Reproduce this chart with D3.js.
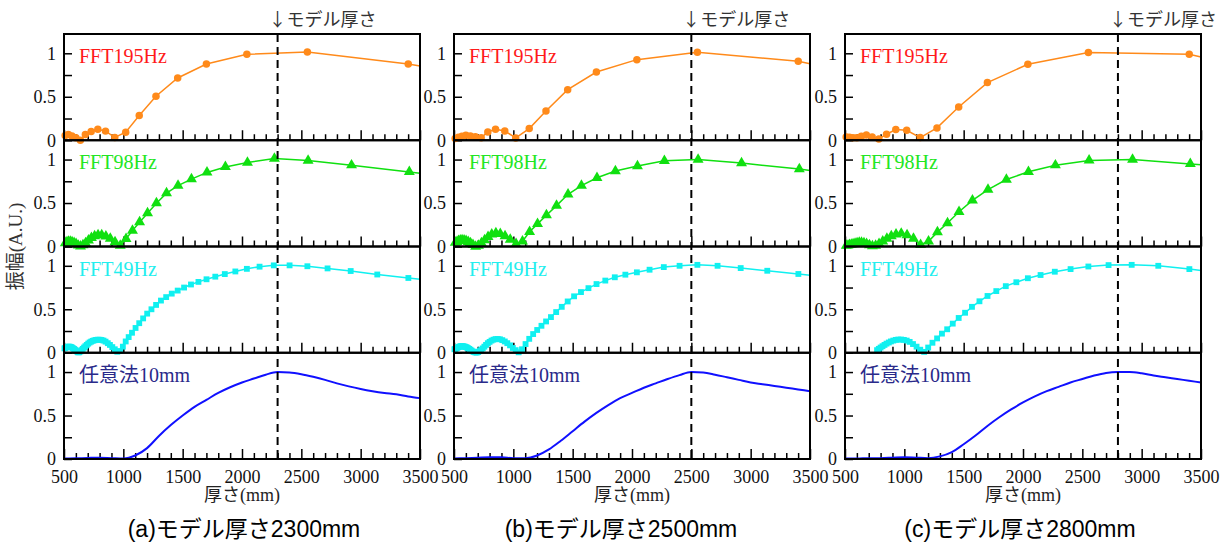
<!DOCTYPE html>
<html>
<head>
<meta charset="utf-8">
<script src="https://cdn.jsdelivr.net/npm/d3@7"></script>
<style>
  body { margin: 0; background: #fff; }
  svg { display: block; }
</style>
</head>
<body>
<script>
// thickness (mm) of each FFT sample, shared by the three panels
const t195 = [510, 537, 567, 600, 638, 680, 729, 785, 850, 928, 1020, 1134, 1275, 1458, 1700, 2041, 2551, 3401];
const t98 = [511, 525, 538, 553, 568, 585, 602, 620, 639, 660,
             682, 706, 731, 758, 787, 818, 853, 890, 930, 974,
             1023, 1077, 1137, 1204, 1279, 1364, 1461, 1574, 1705, 1860,
             2046, 2273, 2557, 2923, 3410];
const t49 = [504, 510, 517, 524, 530, 537, 545, 552, 559, 567,
             575, 583, 592, 600, 609, 618, 628, 638, 648, 658,
             669, 680, 692, 704, 716, 729, 742, 756, 770, 785,
             800, 816, 833, 850, 869, 887, 907, 928, 949, 972,
             996, 1020, 1045, 1073, 1103, 1134, 1167, 1201, 1237, 1276,
             1317, 1361, 1408, 1458, 1512, 1570, 1633, 1701, 1775, 1855,
             1944, 2041, 2148, 2268, 2401, 2551, 2721, 2916, 3140, 3402];
const tArb = [500, 600, 700, 800, 900, 1000, 1100, 1200, 1300, 1400,
              1500, 1600, 1700, 1800, 1900, 2000, 2100, 2200, 2300, 2400,
              2500, 2600, 2700, 2800, 2900, 3000, 3100, 3200, 3300, 3400, 3500];

// (a) model 2300mm
const a195 = [0.055, 0.065, 0.05, 0.03, 0.0, 0.065, 0.1, 0.126, 0.105, 0.032, 0.093, 0.285, 0.506, 0.716, 0.877, 0.989, 1.015, 0.877];
const a98 = [0.04, 0.05, 0.057, 0.057, 0.052, 0.042, 0.03, 0.012, 0.003, 0.015,
             0.04, 0.07, 0.1, 0.12, 0.132, 0.132, 0.118, 0.09, 0.05, 0.01,
             0.088, 0.184, 0.28, 0.383, 0.498, 0.613, 0.7, 0.775, 0.852, 0.915,
             0.966, 1.011, 0.989, 0.935, 0.858];
const a49 = [0.05, 0.055, 0.06, 0.065, 0.068, 0.07, 0.07, 0.068, 0.065, 0.06,
             0.052, 0.045, 0.035, 0.025, 0.015, 0.005, 0.005, 0.015, 0.03, 0.045,
             0.06, 0.075, 0.09, 0.105, 0.118, 0.128, 0.137, 0.143, 0.148, 0.15,
             0.15, 0.147, 0.14, 0.128, 0.11, 0.09, 0.065, 0.04, 0.012, 0.02,
             0.07, 0.13, 0.18, 0.23, 0.285, 0.34, 0.395, 0.45, 0.5, 0.55,
             0.6, 0.64, 0.68, 0.715, 0.75, 0.785, 0.815, 0.845, 0.875, 0.905,
             0.935, 0.965, 0.99, 1.005, 1.005, 0.995, 0.97, 0.94, 0.9, 0.86];
const aArb = [0.005, 0.008, 0.012, 0.015, 0.01, 0.005, 0.04, 0.125, 0.265, 0.39,
              0.5, 0.6, 0.68, 0.76, 0.825, 0.88, 0.925, 0.97, 1.0, 0.995,
              0.975, 0.945, 0.91, 0.87, 0.835, 0.805, 0.78, 0.76, 0.745, 0.72, 0.7];

// (b) model 2500mm
const b195 = [0.02, 0.035, 0.045, 0.057, 0.05, 0.04, 0.03, 0.096, 0.126, 0.107, 0.027, 0.134, 0.337, 0.582, 0.785, 0.927, 1.011, 0.908];
const b98 = [0.045, 0.055, 0.065, 0.072, 0.075, 0.072, 0.065, 0.055, 0.04, 0.02,
             0.0, 0.01, 0.04, 0.075, 0.11, 0.14, 0.155, 0.145, 0.12, 0.08,
             0.03, 0.06, 0.17, 0.26, 0.36, 0.47, 0.6, 0.7, 0.79, 0.868,
             0.925, 0.985, 1.0, 0.96, 0.89];
const b49 = [0.04, 0.045, 0.05, 0.055, 0.06, 0.065, 0.07, 0.072, 0.075, 0.075,
             0.075, 0.072, 0.07, 0.065, 0.06, 0.052, 0.045, 0.035, 0.025, 0.015,
             0.008, 0.003, 0.002, 0.008, 0.02, 0.035, 0.05, 0.07, 0.09, 0.11,
             0.125, 0.14, 0.15, 0.157, 0.158, 0.155, 0.145, 0.13, 0.11, 0.085,
             0.055, 0.03, 0.005, 0.04, 0.1, 0.16, 0.215, 0.262, 0.31, 0.36,
             0.41, 0.468, 0.528, 0.59, 0.649, 0.698, 0.743, 0.79, 0.83, 0.868,
             0.898, 0.925, 0.955, 0.985, 1.0, 1.011, 1.0, 0.974, 0.943, 0.906];
const bArb = [0.005, 0.01, 0.015, 0.02, 0.02, 0.01, 0.01, 0.04, 0.11, 0.21,
              0.32, 0.43, 0.53, 0.62, 0.7, 0.76, 0.82, 0.87, 0.92, 0.965,
              1.0, 0.995, 0.97, 0.94, 0.91, 0.88, 0.86, 0.84, 0.82, 0.8, 0.78];

// (c) model 2800mm
const c195 = [0.038, 0.035, 0.03, 0.03, 0.046, 0.061, 0.038, 0.015, 0.069, 0.123, 0.115, 0.031, 0.142, 0.383, 0.663, 0.874, 1.008, 0.989];
const c98 = [0.01, 0.012, 0.018, 0.022, 0.028, 0.035, 0.04, 0.045, 0.045, 0.04,
             0.03, 0.015, 0.005, 0.01, 0.03, 0.06, 0.09, 0.12, 0.14, 0.15,
             0.13, 0.09, 0.02, 0.06, 0.165, 0.27, 0.4, 0.53, 0.655, 0.77,
             0.86, 0.935, 0.99, 1.0, 0.95];
const c49 = [null, null, null, null, null, null, null, null, null, null,
             null, null, null, null, null, null, null, null, null, null,
             null, null, null, null, null, null, null, null, 0.03, 0.045,
             0.06, 0.075, 0.09, 0.105, 0.118, 0.13, 0.14, 0.148, 0.152, 0.152,
             0.148, 0.14, 0.125, 0.1, 0.07, 0.035, 0.01, 0.06, 0.115, 0.165,
             0.22, 0.27, 0.335, 0.4, 0.46, 0.528, 0.592, 0.653, 0.709, 0.766,
             0.811, 0.857, 0.894, 0.932, 0.962, 0.992, 1.008, 1.011, 1.0, 0.962];
const cArb = [0.005, 0.005, 0.01, 0.01, 0.015, 0.02, 0.015, 0.01, 0.03, 0.08,
              0.17, 0.27, 0.38, 0.48, 0.57, 0.65, 0.72, 0.78, 0.83, 0.88,
              0.92, 0.96, 0.99, 1.0, 1.0, 0.985, 0.96, 0.94, 0.92, 0.9, 0.88];

// value of each FFT line where it leaves the frame at 3500mm: [a, b, c]
const edge195 = [0.855, 0.88, 0.958];
const edge98 = [0.843, 0.875, 0.94];
const edge49 = [0.845, 0.89, 0.945];

const modelThickness = [2300, 2500, 2800];
const captions = ["(a)モデル厚さ2300mm", "(b)モデル厚さ2500mm", "(c)モデル厚さ2800mm"];
const seriesNames = ["FFT195Hz", "FFT98Hz", "FFT49Hz", "任意法10mm"];
const xTicks = [500, 1000, 1500, 2000, 2500, 3000, 3500];
const yTicks = [0, 0.5, 1];

const panels = [
  [[t195, a195, edge195[0]], [t98, a98, edge98[0]], [t49, a49, edge49[0]], [tArb, aArb]],
  [[t195, b195, edge195[1]], [t98, b98, edge98[1]], [t49, b49, edge49[1]], [tArb, bArb]],
  [[t195, c195, edge195[2]], [t98, c98, edge98[2]], [t49, c49, edge49[2]], [tArb, cArb]]
];

const lineColors = ["#ff8a1a", "#10e010", "#10f0f0", "#1010ff"];
const labelColors = ["#ff1a1a", "#22e622", "#22eeee", "#2a2a8a"];
const markerTypes = [d3.symbolCircle, d3.symbolTriangle, d3.symbolSquare, null];
const markerSizes = [44, 52, 34, 0];

const panelLeft = [64, 454, 845];
const captionX = [244, 621, 1020];
const plotW = 356;
const plotTop = 34;
const subH = 106.25;
const serif = "'Liberation Serif', 'Noto Sans CJK JP', serif";
const sans = "'Liberation Sans', 'Noto Sans CJK JP', sans-serif";
const cjk = "'Noto Sans CJK JP', sans-serif";

const svg = d3.select("body")
  .append("svg")
  .attr("width", 1232)
  .attr("height", 546);

const x = d3.scaleLinear().domain([500, 3500]).range([0, plotW]);
const y = d3.scaleLinear().domain([0, 1.222]).range([subH, 0]);

panels.forEach((rows, p) => {
  const g = svg.append("g")
    .attr("transform", "translate(" + panelLeft[p] + "," + plotTop + ")");

  rows.forEach((row, r) => {
    const rg = g.append("g")
      .attr("transform", "translate(0," + (r * subH) + ")");

    // minor x ticks every 100mm
    rg.append("g")
      .attr("transform", "translate(0," + subH + ")")
      .call(d3.axisBottom(x)
        .tickValues(d3.range(600, 3500, 100).filter(v => v % 500 !== 0))
        .tickSize(-6)
        .tickFormat(""))
      .call(a => a.select(".domain").remove())
      .selectAll("line").attr("stroke", "#000").attr("stroke-width", 1.5);

    // major x ticks
    const ax = rg.append("g")
      .attr("transform", "translate(0," + subH + ")")
      .call(d3.axisBottom(x)
        .tickValues(xTicks)
        .tickSize(-10)
        .tickPadding(11)
        .tickFormat(r === 3 ? d3.format("d") : ""));
    ax.select(".domain").remove();
    ax.selectAll("line").attr("stroke", "#000").attr("stroke-width", 1.5);
    ax.selectAll("text")
      .attr("font-family", serif)
      .attr("font-size", 18)
      .attr("fill", "#111");

    // y ticks
    const ay = rg.append("g")
      .call(d3.axisLeft(y)
        .tickValues([0, 0.25, 0.5, 0.75, 1])
        .tickSize(-8)
        .tickPadding(8)
        .tickFormat(d => yTicks.includes(d) ? String(d) : ""));
    ay.select(".domain").remove();
    ay.selectAll("line").attr("stroke", "#000").attr("stroke-width", 1.5);
    ay.selectAll("text")
      .attr("font-family", serif)
      .attr("font-size", 18)
      .attr("fill", "#111");

    // series
    const [ts, vs, edge] = row;
    const pts = ts.map((t, i) => [t, vs[i]]).filter(d => d[1] != null);
    const linePts = edge === undefined ? pts : pts.concat([[3500, edge]]);
    const line = d3.line()
      .x(d => x(d[0]))
      .y(d => y(d[1]))
      .curve(r === 3 ? d3.curveMonotoneX : d3.curveLinear);

    rg.append("path")
      .datum(linePts)
      .attr("d", line)
      .attr("fill", "none")
      .attr("stroke", lineColors[r])
      .attr("stroke-width", r === 3 ? 2 : 1.5);

    if (markerTypes[r]) {
      rg.selectAll(".mk")
        .data(pts)
        .enter()
        .append("path")
        .attr("class", "mk")
        .attr("transform", d => "translate(" + x(d[0]) + "," + y(d[1]) + ")")
        .attr("d", d3.symbol(markerTypes[r], markerSizes[r]))
        .attr("fill", lineColors[r]);
    }

    rg.append("text")
      .attr("x", 15)
      .attr("y", 29)
      .attr("font-family", serif)
      .attr("font-size", 20)
      .attr("fill", labelColors[r])
      .text(seriesNames[r]);

    // frame of the sub-plot
    rg.append("rect")
      .attr("width", plotW)
      .attr("height", subH)
      .attr("fill", "none")
      .attr("stroke", "#000")
      .attr("stroke-width", 2);
  });

  // model thickness marker
  g.append("line")
    .attr("x1", x(modelThickness[p]))
    .attr("x2", x(modelThickness[p]))
    .attr("y1", 0)
    .attr("y2", 4 * subH)
    .attr("stroke", "#000")
    .attr("stroke-width", 2)
    .attr("stroke-dasharray", "8,5");

  g.append("text")
    .attr("x", x(modelThickness[p]) - 9)
    .attr("y", -13)
    .attr("dominant-baseline", "middle")
    .attr("font-family", cjk)
    .attr("font-size", 18)
    .attr("fill", "#333")
    .text("↓モデル厚さ");

  g.append("text")
    .attr("x", plotW / 2)
    .attr("y", 4 * subH + 38)
    .attr("dominant-baseline", "middle")
    .attr("text-anchor", "middle")
    .attr("font-family", serif)
    .attr("font-size", 18)
    .attr("fill", "#222")
    .text("厚さ(mm)");

  svg.append("text")
    .attr("x", captionX[p])
    .attr("y", 531)
    .attr("dominant-baseline", "middle")
    .attr("text-anchor", "middle")
    .attr("font-family", sans)
    .attr("font-size", 23)
    .attr("fill", "#000")
    .text(captions[p]);
});

svg.append("text")
  .attr("transform", "translate(18," + (plotTop + 2 * subH) + ") rotate(-90)")
  .attr("text-anchor", "middle")
  .attr("dominant-baseline", "middle")
  .attr("font-family", serif)
  .attr("font-size", 19)
  .attr("fill", "#333")
  .text("振幅(A.U.)");
</script>
</body>
</html>
